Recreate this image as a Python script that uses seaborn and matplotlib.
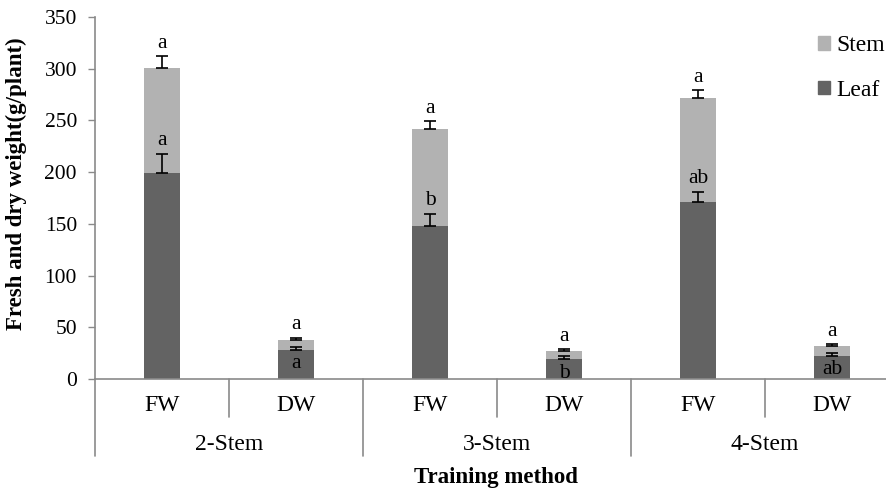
#!/usr/bin/env python3
"""Stacked leaf/stem fresh and dry weight by training method."""

import matplotlib

matplotlib.use("Agg")
import matplotlib.pyplot as plt
import numpy as np
import pandas as pd
import seaborn as sns
from matplotlib.patches import Patch
from matplotlib.transforms import blended_transform_factory

# ---- data ----
groups = ["2-Stem", "3-Stem", "4-Stem"]
measures = ["FW", "DW"]
leaf = [199, 28, 148, 19, 171, 22]
stem = [102, 10, 94, 8, 101, 10]
leaf_err = [19, 3, 12, 3, 10, 3]
stem_err = [11, 2, 7, 2, 7, 1.5]
leaf_letters = ["a", "a", "b", "b", "ab", "ab"]
stem_letters = ["a", "a", "a", "a", "a", "a"]

LEAF_COLOR = "#636363"
STEM_COLOR = "#b2b2b2"
LINE_COLOR = "#8a8a8a"

categories = [f"{g} {m}" for g in groups for m in measures]
df = pd.DataFrame(
    {
        "cat": categories,
        "group": [g for g in groups for _ in measures],
        "measure": [m for _ in groups for m in measures],
        "leaf": leaf,
        "total": np.array(leaf) + np.array(stem),
    }
)

sns.set_style("ticks")
plt.rcParams["font.family"] = ["Liberation Serif", "DejaVu Serif"]
plt.rcParams["text.color"] = "black"
plt.rcParams["axes.labelcolor"] = "black"
plt.rcParams["ytick.labelcolor"] = "black"

fig = plt.figure(figsize=(8.87, 4.88), dpi=100)
ax = fig.add_axes([95 / 887, 109 / 488, 804 / 887, 362 / 488])

sns.barplot(data=df, x="cat", y="total", order=categories, color=STEM_COLOR,
            saturation=1, width=0.276, errorbar=None, linewidth=0, ax=ax)
sns.barplot(data=df, x="cat", y="leaf", order=categories, color=LEAF_COLOR,
            saturation=1, width=0.276, errorbar=None, linewidth=0, ax=ax)

pos = np.arange(len(categories))
totals = df["total"].to_numpy()
zeros = np.zeros(len(pos))
ax.errorbar(pos, totals, yerr=[zeros, stem_err], fmt="none", ecolor="black",
            elinewidth=1.2, capsize=4, capthick=1.2, zorder=5)
ax.errorbar(pos, leaf, yerr=[zeros, leaf_err], fmt="none", ecolor="black",
            elinewidth=1.2, capsize=4, capthick=1.2, zorder=5)

for i, x in enumerate(pos):
    ax.annotate(stem_letters[i], (x, totals[i] + stem_err[i]), xytext=(0, 2.5),
                textcoords="offset points", ha="center", va="bottom", fontsize=15.5)
    if df["measure"][i] == "FW":
        ax.annotate(leaf_letters[i], (x, leaf[i] + leaf_err[i]), xytext=(0, 2.5),
                    textcoords="offset points", ha="center", va="bottom", fontsize=15.5)
    else:
        ax.annotate(leaf_letters[i], (x, leaf[i]), xytext=(0, -3),
                    textcoords="offset points", ha="center", va="top", fontsize=15.5,
                    zorder=6)

ax.set_xlim(-0.5, len(categories) - 0.5)
ax.set_ylim(0, 350)
ax.set_yticks(range(0, 351, 50))
ax.tick_params(axis="y", direction="out", length=5, width=1, color=LINE_COLOR,
               labelsize=15.5, pad=8, labelcolor="black")
ax.tick_params(axis="x", bottom=False, labelbottom=False)
ax.set_xlabel("")
ax.set_ylabel("Fresh and dry weight(g/plant)", fontsize=16.5, fontweight="bold")
ax.yaxis.set_label_coords(-0.0846, 0.539)

for side in ["top", "right"]:
    ax.spines[side].set_visible(False)
for side in ["left", "bottom"]:
    ax.spines[side].set_color(LINE_COLOR)
    ax.spines[side].set_linewidth(1.2)

# two-level category axis below the plot
tr = blended_transform_factory(ax.transData, ax.transAxes)
for i, x in enumerate(pos):
    ax.text(x, -0.072, df["measure"][i], transform=tr, ha="center", va="center",
            fontsize=17)
for k, g in enumerate(groups):
    ax.text(2 * k + 0.5, -0.182, g, transform=tr, ha="center", va="center",
            fontsize=17)
for k in range(len(groups)):
    ax.plot([2 * k + 0.5] * 2, [0, -0.105], transform=tr, color=LINE_COLOR,
            lw=1.2, clip_on=False)
for xb in [-0.5, 1.5, 3.5, 5.5]:
    ax.plot([xb, xb], [0, -0.2127], transform=tr, color=LINE_COLOR, lw=1.2,
            clip_on=False)
fig.text(496 / 887, 11 / 488, "Training method", ha="center", va="center",
         fontsize=16.5, fontweight="bold")

handles = [Patch(color=STEM_COLOR, label="Stem"), Patch(color=LEAF_COLOR, label="Leaf")]
fig.legend(handles=handles, loc="upper left", bbox_to_anchor=(809 / 887, 462 / 488),
           frameon=False, fontsize=17, handlelength=0.5, handleheight=0.5,
           handletextpad=0.25, labelspacing=1.0, borderaxespad=0)

fig.savefig("out.png", dpi=100)
